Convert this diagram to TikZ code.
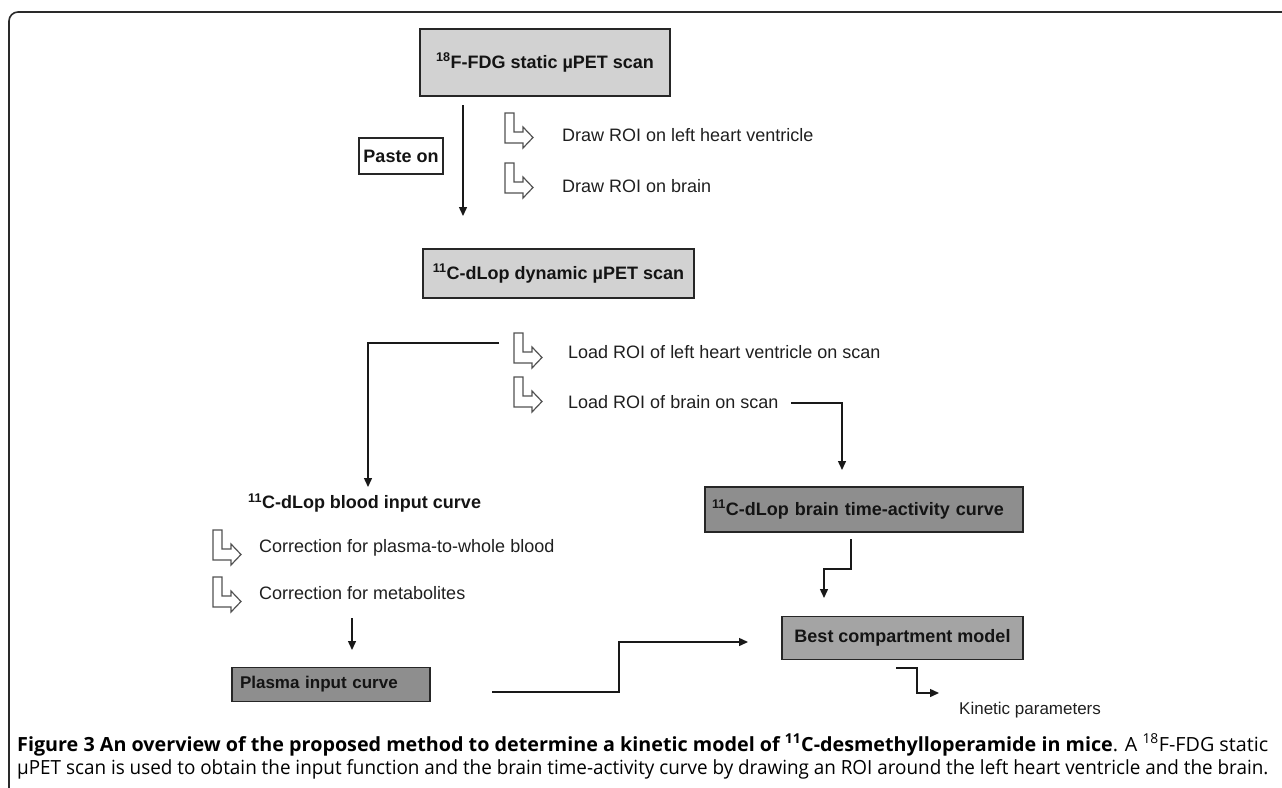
\documentclass[tikz,border=0pt]{standalone}
\usepackage{fontspec}
\usepackage{graphicx}
\setmainfont{Liberation Sans}
\newfontfamily\capfont{Open Sans}
\usetikzlibrary{arrows.meta}
\definecolor{lightbox}{HTML}{D2D2D2}
\definecolor{darkbox}{HTML}{8E8E8E}
\definecolor{midbox}{HTML}{A4A4A4}
\definecolor{framecol}{HTML}{2A2A2A}
\tikzset{
  larrow/.pic={\draw[draw=black!68, line width=1.2pt, fill=white, line join=miter]
    (0,0) -- (9,0) -- (9,19) -- (18,19) -- (18,14) -- (28,24.5) -- (18,35) -- (18,30) -- (0,30) -- cycle;},
  box/.style={draw=black!85, line width=1.2pt, inner sep=0pt,
    font=\fontsize{18}{21}\selectfont\bfseries, text=black!92},
  lbl/.style={anchor=west, inner sep=0pt, font=\fontsize{18}{21}\selectfont, text=black!88},
  conn/.style={draw=black!90, line width=1.4pt},
  arr/.style={conn, -{Triangle[length=9pt,width=8pt]}},
}
\begin{document}
\begin{tikzpicture}[x=1pt,y=-1pt]
\useasboundingbox (0,0) rectangle (1282,787);
\begin{scope}
\clip (0,0) rectangle (1282,787);
\draw[framecol, line width=1.6pt, rounded corners=9pt] (9,800) -- (9,12) -- (1300,12);
\end{scope}

% boxes
\node[box, fill=lightbox, minimum width=250pt, minimum height=67pt] (fdg) at (545,62.5)
  {\textsuperscript{18}F-FDG static µPET scan};
\node[box, fill=white, minimum width=84pt, minimum height=36pt] (paste) at (401,156) {Paste on};
\node[box, fill=lightbox, minimum width=271pt, minimum height=49pt] (dyn) at (558.5,273.5)
  {\textsuperscript{11}C-dLop dynamic µPET scan};
\node[anchor=west, inner sep=0pt, font=\fontsize{18}{21}\selectfont\bfseries, text=black!92] (blood) at (248,503)
  {\textsuperscript{11}C-dLop blood input curve};
\node[box, fill=darkbox, minimum width=318pt, minimum height=45pt, text width=304pt, align=left, inner xsep=7pt] (brain) at (864,509.5)
  {\textsuperscript{11}C-dLop brain time-activity curve};
\node[box, fill=midbox, minimum width=241pt, minimum height=43pt] (best) at (902.5,638)
  {Best compartment model};
\node[box, fill=darkbox, minimum width=198pt, minimum height=34pt, text width=182pt, align=left, inner xsep=8pt,
  font=\fontsize{17}{20}\selectfont\bfseries] (plasma) at (331,684.5)
  {Plasma input curve};

% labels
\node[lbl] (t1) at (562,135) {Draw ROI on left heart ventricle};
\node[lbl] (t2) at (562,186) {Draw ROI on brain};
\node[lbl] (t3) at (568,352) {Load ROI of left heart ventricle on scan};
\node[lbl] (t4) at (568,402) {Load ROI of brain on scan};
\node[lbl] (t5) at (259,548) {Correction for plasma-to-whole blood};
\node[lbl] (t6) at (259,593) {Correction for metabolites};
\node[lbl, font=\fontsize{17}{20}\selectfont] (t7) at (959,710) {Kinetic parameters};

% bent hollow arrows
\pic at (505,113) {larrow};
\pic at (505,163) {larrow};
\pic at (514,333) {larrow};
\pic at (514,377) {larrow};
\pic at (213,530) {larrow};
\pic at (213,577) {larrow};

% connector coordinates
\coordinate (a1s) at (463,105);
\coordinate (a1e) at (463,216);
\coordinate (a2s) at (499,343);
\coordinate (a2m) at (368,343);
\coordinate (a2e) at (368,487);
\coordinate (a3s) at (791,403);
\coordinate (a3m) at (842,403);
\coordinate (a3e) at (842,470);
\coordinate (a4s) at (851,539);
\coordinate (a4m1) at (851,569);
\coordinate (a4m2) at (824,569);
\coordinate (a4e) at (824,598);
\coordinate (a5s) at (352,618);
\coordinate (a5e) at (352,650);
\coordinate (a6s) at (492,692);
\coordinate (a6m1) at (619,692);
\coordinate (a6m2) at (619,642);
\coordinate (a6e) at (748,642);
\coordinate (a7s) at (896,668);
\coordinate (a7m1) at (917,668);
\coordinate (a7m2) at (917,693);
\coordinate (a7e) at (939,693);

\draw[arr] (a1s) -- (a1e);
\draw[arr] (a2s) -- (a2m) -- (a2e);
\draw[arr] (a3s) -- (a3m) -- (a3e);
\draw[arr] (a4s) -- (a4m1) -- (a4m2) -- (a4e);
\draw[arr] (a5s) -- (a5e);
\draw[arr] (a6s) -- (a6m1) -- (a6m2) -- (a6e);
\draw[arr] (a7s) -- (a7m1) -- (a7m2) -- (a7e);

% caption
\node[anchor=west, inner sep=0pt] (cap1) at (17,745)
  {\resizebox{1251pt}{\height}{\capfont\fontsize{19.5}{24}\selectfont\bfseries Figure 3 An overview of the proposed method to determine a kinetic model of \textsuperscript{11}C-desmethylloperamide in mice\mdseries. A \textsuperscript{18}F-FDG static}};
\node[anchor=west, inner sep=0pt] (cap2) at (17,769)
  {\resizebox{1251pt}{\height}{\capfont\fontsize{19.5}{24}\selectfont µPET scan is used to obtain the input function and the brain time-activity curve by drawing an ROI around the left heart ventricle and the brain.}};
\end{tikzpicture}
\end{document}
